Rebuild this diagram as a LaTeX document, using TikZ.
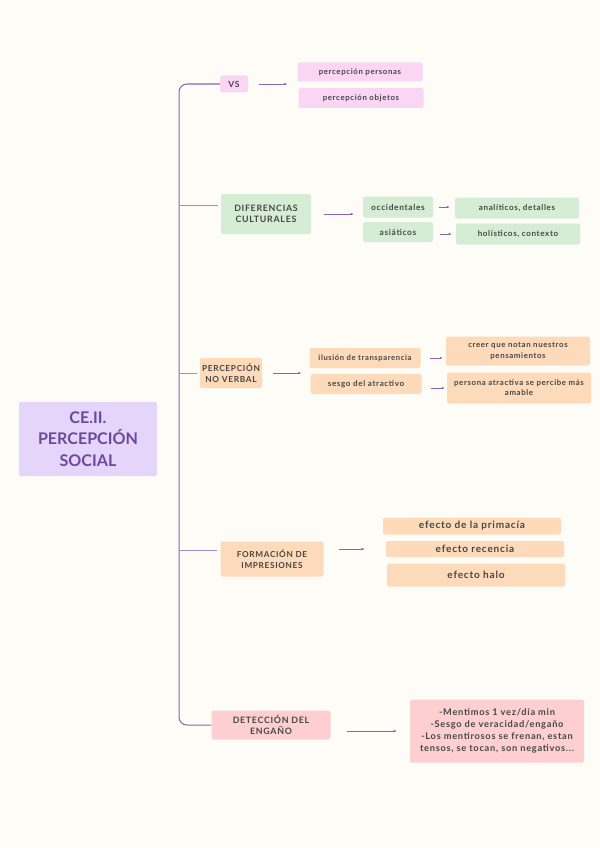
\documentclass[tikz,border=0pt]{standalone}
\usepackage{fontspec}
\setmainfont{Lato}
\usetikzlibrary{arrows.meta,positioning,calc}
\definecolor{paper}{HTML}{FEFCF6}
\definecolor{lila}{HTML}{E5D5FB}
\definecolor{lilatext}{HTML}{6A4A9C}
\definecolor{ramacol}{HTML}{8A62BE}
\definecolor{ramaclara}{HTML}{A58AD2}
\definecolor{rosa}{HTML}{FAD6F4}
\definecolor{verde}{HTML}{D5EDD4}
\definecolor{melocoton}{HTML}{FDDAB9}
\definecolor{rojizo}{HTML}{FDCFD1}
\definecolor{tinta}{HTML}{474747}
\newcommand{\fs}[1]{\fontsize{#1}{\dimexpr #1pt*13/10\relax}\selectfont\bfseries\addfontfeatures{LetterSpace=8}}

\begin{document}
\begin{tikzpicture}[x=0.035cm,y=-0.035cm,
    caja/.style={rounded corners=2pt,inner sep=1pt,align=center,text=tinta},
    sz/.style 2 args={minimum width=#1*0.035cm,minimum height=#2*0.035cm},
    rama/.style={draw=ramacol,line width=1pt},
    ramita/.style={draw=ramaclara,line width=1pt,shorten <=3pt},
    flecha/.style={draw=ramacol,line width=0.7pt,-{Latex[length=3pt,width=2.6pt]}}]
    \fill[paper] (0,0) rectangle (600,848);
    \useasboundingbox (0,0) rectangle (600,848);

    % Titulo
    \node[caja,fill=lila,text=lilatext,sz={138}{74},
      font=\fontsize{16}{21.5}\selectfont\bfseries] (titulo) at (88,439)
      {CE.II.\\PERCEPCIÓN\\SOCIAL};

    % VS
    \node[caja,fill=rosa,sz={28}{17},font=\fs{8.5}] (vs) at (234,84) {VS};
    \node[caja,fill=rosa,sz={125}{19},font=\fs{7.8}] (pper) at (360,72) {percepción personas};
    \node[caja,fill=rosa,sz={125}{20},font=\fs{7.8}] (pobj) at (361,98) {percepción objetos};
    \draw[flecha,shorten <=11pt,shorten >=10pt] (vs.east) -- (vs.east -| pper.west);

    % Diferencias culturales
    \node[caja,fill=verde,sz={90}{40},font=\fs{8.8}] (dif) at (266,214) {DIFERENCIAS\\CULTURALES};
    \node[caja,fill=verde,sz={70}{21},font=\fs{8.3}] (occ) at (398,207) {occidentales};
    \node[caja,fill=verde,sz={70}{20},font=\fs{8.3}] (asi) at (398,232) {asiáticos};
    \node[caja,fill=verde,sz={124}{21},font=\fs{8}] (ana) at (517,208) {analíticos, detalles};
    \node[caja,fill=verde,sz={124}{21},font=\fs{8}] (hol) at (518,234) {holísticos, contexto};
    \draw[flecha,shorten <=13pt,shorten >=9pt] (dif.east) -- (dif.east -| occ.west);
    \draw[flecha,shorten <=6pt,shorten >=5pt] (occ.east) -- (occ.east -| ana.west);
    \draw[flecha,shorten <=7pt,shorten >=4pt] (asi.east |- hol.west) -- (hol.west);

    % Percepcion no verbal
    \node[caja,fill=melocoton,sz={62}{30},font=\fs{8.3}] (pnv) at (231,373) {PERCEPCIÓN\\NO VERBAL};
    \node[caja,fill=melocoton,sz={111}{20},font=\fs{7.6}] (ilu) at (365,358) {ilusión de transparencia};
    \node[caja,fill=melocoton,sz={111}{20},font=\fs{8}] (ses) at (366,384) {sesgo del atractivo};
    \node[caja,fill=melocoton,sz={144}{29},font=\fs{7.8}] (cre) at (518,351)
      {creer que notan nuestros\\pensamientos};
    \node[caja,fill=melocoton,sz={144}{31},font=\fs{7.8}] (per) at (519,388)
      {persona atractiva se percibe más\\amable};
    \draw[flecha,shorten <=11pt,shorten >=8pt] (pnv.east) -- (pnv.east -| ilu.west);
    \draw[flecha,shorten <=9pt,shorten >=3pt] (ilu.east) -- (ilu.east -| cre.west);
    \draw[flecha,shorten <=9pt,shorten >=2pt] (ses.east |- per.west) -- (per.west);

    % Formacion de impresiones
    \node[caja,fill=melocoton,sz={103}{35},font=\fs{8.2}] (form) at (272,559) {FORMACIÓN DE\\IMPRESIONES};
    \node[caja,fill=melocoton,sz={178}{17},font=\fs{10}] (epr) at (472,526) {efecto de la primacía};
    \node[caja,fill=melocoton,sz={178}{16},font=\fs{10}] (ere) at (475,549) {efecto recencia};
    \node[caja,fill=melocoton,sz={178}{23},font=\fs{10}] (eha) at (476,575) {efecto halo};
    \draw[flecha,shorten <=15pt,shorten >=21pt] (form.east |- ere.west) -- (ere.west);

    % Deteccion del engano
    \node[caja,fill=rojizo,sz={119}{29},font=\fs{8.8}] (det) at (271,725) {DETECCIÓN DEL\\ENGAÑO};
    \node[caja,fill=rojizo,sz={174}{63},font=\fs{9.2}] (men) at (497,731)
      {-Mentimos 1 vez/día min\\-Sesgo de veracidad/engaño\\-Los mentirosos se frenan, estan\\tensos, se tocan, son negativos...};
    \draw[flecha,shorten <=16pt,shorten >=13pt] (det.east |- men.west) -- (men.west);

    % Tronco
    \coordinate (arriba) at (179,84);
    \coordinate (abajo) at (179,725);
    \draw[rama,rounded corners=8pt] (vs.west) -- (arriba) -- (abajo) -- (det.west);
    \draw[ramita] ([yshift=8pt]dif.west) -- ([yshift=8pt]dif.west -| arriba);
    \draw[ramita] (pnv.west) -- (pnv.west -| arriba);
    \draw[ramita] ([yshift=8pt]form.west) -- ([yshift=8pt]form.west -| arriba);
\end{tikzpicture}
\end{document}
